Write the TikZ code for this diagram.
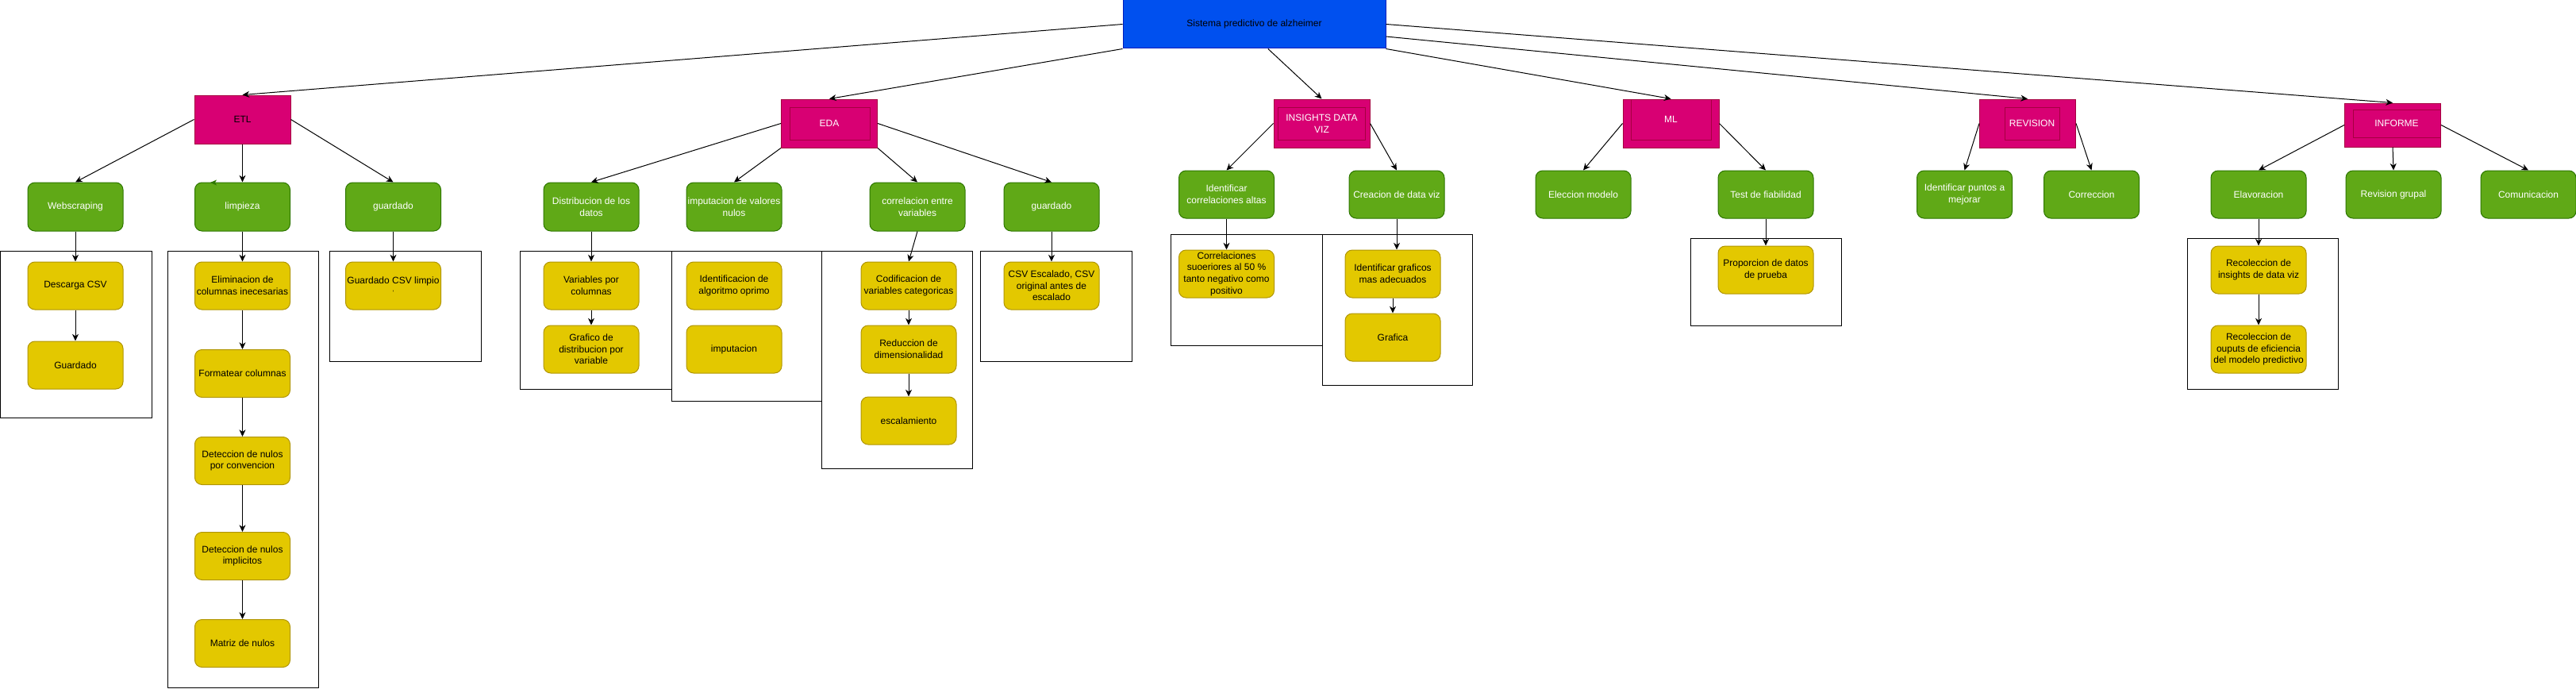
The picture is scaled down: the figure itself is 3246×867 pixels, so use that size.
\documentclass[tikz,border=0pt]{standalone}
\usepackage{fontspec}
\setmainfont{Liberation Sans}
\usetikzlibrary{arrows.meta,calc}
\definecolor{rootfill}{HTML}{0050EF}
\definecolor{rootdraw}{HTML}{001DBC}
\definecolor{magfill}{HTML}{D80073}
\definecolor{magdraw}{HTML}{A50040}
\definecolor{grnfill}{HTML}{60A917}
\definecolor{grndraw}{HTML}{2D7600}
\definecolor{yelfill}{HTML}{E3C800}
\definecolor{yeldraw}{HTML}{B09500}
\begin{document}
\begin{tikzpicture}[x=0.75pt,y=-0.75pt,line width=0.75pt,
  every node/.style={font=\fontsize{9}{11}\selectfont,align=center,inner sep=1pt},
  rootbox/.style={rectangle,fill=rootfill,draw=rootdraw,minimum width=248.25pt,minimum height=45.75pt,text=black},
  catbox/.style={rectangle,fill=magfill,draw=magdraw,minimum width=90.75pt,minimum height=45.75pt,text=white},
  greenbox/.style={rectangle,rounded corners=6.75pt,fill=grnfill,draw=grndraw,minimum width=90pt,minimum height=45pt,text=white},
  yellowbox/.style={rectangle,rounded corners=6.75pt,fill=yelfill,draw=yeldraw,minimum width=90pt,minimum height=45pt,text=black},
  container/.style={draw=black,line width=0.75pt},
  innerbox/.style={draw=magdraw,line width=0.75pt},
  arr/.style={draw=black,line width=0.75pt,-{Stealth[length=6.5pt,width=6pt,inset=2pt]}}]
\useasboundingbox (0,0) rectangle (3246,867);

% containers
\draw[container] (0,316) rectangle (191,526);
\draw[container] (211,316) rectangle (401,866);
\draw[container] (415,316) rectangle (606,455);
\draw[container] (655,316) rectangle (846,490);
\draw[container] (846,316) rectangle (1035,505);
\draw[container] (1035,316) rectangle (1225,590);
\draw[container] (1235,316) rectangle (1426,455);
\draw[container] (1475,295) rectangle (1666,435);
\draw[container] (1666,295) rectangle (1855,485);
\draw[container] (2130,300) rectangle (2320,410);
\draw[container] (2756,300) rectangle (2946,490);

% root
\node[rootbox] (root) at (1580.5,30.5) {Sistema predictivo de alzheimer};

% categories
\node[catbox,text=black] (etl) at (305.5,150.5) {ETL};
\node[catbox] (eda) at (1045,155.5) {};
\draw[innerbox] (995,135) rectangle (1096,176);
\node[text=white] at (1045,155.5) {EDA};
\node[catbox] (ins) at (1665.5,155.5) {};
\draw[innerbox] (1610,135) rectangle (1720,176);
\node[text=white] at (1665.5,155.5) {INSIGHTS DATA\\VIZ};
\node[catbox] (ml) at (2105.5,155.5) {};
\draw[innerbox] (2055,125) rectangle (2156,176);
\node[text=white] at (2105.5,150.5) {ML};
\node[catbox] (rev) at (2555,155.5) {};
\draw[innerbox] (2526,135) rectangle (2595,176);
\node[text=white] at (2560.5,155.5) {REVISION};
\node[catbox,minimum height=41.25pt] (inf) at (3015,157.5) {};
\draw[innerbox] (2965,138) rectangle (3075,173);
\node[text=white] at (3020,155.5) {INFORME};

% green level
\node[greenbox,minimum height=45.75pt] (web) at (95,260.5) {Webscraping};
\node[greenbox,minimum height=45.75pt] (limp) at (305.5,260.5) {limpieza};
\node[greenbox,minimum height=45.75pt] (guar1) at (495.5,260.5) {guardado};
\node[greenbox,minimum height=45.75pt] (dist) at (745,260.5) {Distribucion de los\\datos};
\node[greenbox,minimum height=45.75pt] (imp) at (925,260.5) {imputacion de valores\\nulos};
\node[greenbox,minimum height=45.75pt] (corr) at (1156,260.5) {correlacion entre\\variables};
\node[greenbox,minimum height=45.75pt] (guar2) at (1325,260.5) {guardado};
\node[greenbox] (idcorr) at (1545.5,245) {Identificar\\correlaciones altas};
\node[greenbox] (crea) at (1760,245) {Creacion de data viz};
\node[greenbox] (elec) at (1995,245) {Eleccion modelo};
\node[greenbox] (test) at (2225,245) {Test de fiabilidad};
\node[greenbox] (idpun) at (2475.5,245) {Identificar puntos a\\mejorar};
\node[greenbox] (corrc) at (2635.5,245) {Correccion};
\node[greenbox] (elav) at (2846,245) {Elavoracion};
\node[greenbox] (revg) at (3016,245) {Revision grupal};
\node[greenbox] (comu) at (3186,245) {Comunicacion};

% stray green arrow tip at limpieza
\fill[grndraw] (265,230) -- (273,226.5) -- (271,230) -- (273,233.5) -- cycle;

% yellow level
\node[yellowbox] (desc) at (95,360) {Descarga CSV};
\node[yellowbox] (gua) at (95,460) {Guardado};
\node[yellowbox] (elim) at (305.5,360) {Eliminacion de\\columnas inecesarias};
\node[yellowbox] (form) at (305.5,470.5) {Formatear columnas};
\node[yellowbox] (detc) at (305.5,580.5) {Deteccion de nulos\\por convencion};
\node[yellowbox] (deti) at (305.5,700.5) {Deteccion de nulos\\implicitos};
\node[yellowbox] (matr) at (305.5,810.5) {Matriz de nulos};
\node[yellowbox] (gcsv) at (495.5,360) {Guardado CSV limpio\\{\fontsize{6}{11}\selectfont `}};
\node[yellowbox] (varc) at (745,360) {Variables por\\columnas};
\node[yellowbox] (graf) at (745,440) {Grafico de\\distribucion por\\variable};
\node[yellowbox] (idal) at (925,360) {Identificacion de\\algoritmo oprimo};
\node[yellowbox] (impu) at (925,440) {imputacion};
\node[yellowbox] (codi) at (1145,360) {Codificacion de\\variables categoricas};
\node[yellowbox] (redu) at (1145,440) {Reduccion de\\dimensionalidad};
\node[yellowbox] (esca) at (1145,530) {escalamiento};
\node[yellowbox] (csve) at (1325,360) {CSV Escalado, CSV\\original antes de\\escalado};
\node[yellowbox] (corrs) at (1545.5,345) {Correlaciones\\suoeriores al 50 \%\\tanto negativo como\\positivo};
\node[yellowbox] (idgr) at (1755,345) {Identificar graficos\\mas adecuados};
\node[yellowbox] (grafi) at (1755,425) {Grafica};
\node[yellowbox] (prop) at (2225,340) {Proporcion de datos\\de prueba};
\node[yellowbox] (rec1) at (2846,340) {Recoleccion de\\insights de data viz};
\node[yellowbox] (rec2) at (2846,440) {Recoleccion de\\ouputs de eficiencia\\del modelo predictivo};

% root arrows
\draw[arr] (root.west) -- (etl.north);
\draw[arr] (root.south west) -- (eda.north);
\draw[arr] ([xshift=13pt]root.south) -- (ins.north);
\draw[arr] (root.south east) -- (ml.north);
\draw[arr] ($(root.east)!0.5!(root.south east)$) -- (rev.north);
\draw[arr] (root.east) -- (inf.north);

% category arrows
\draw[arr] (etl.west) -- (web.north);
\draw[arr] (etl.south) -- (limp.north);
\draw[arr] (etl.east) -- (guar1.north);
\draw[arr] (eda.west) -- (dist.north);
\draw[arr] (eda.south west) -- (imp.north);
\draw[arr] (eda.south east) -- (corr.north);
\draw[arr] (eda.east) -- (guar2.north);
\draw[arr] (ins.west) -- (idcorr.north);
\draw[arr] (ins.east) -- (crea.north);
\draw[arr] (ml.west) -- (elec.north);
\draw[arr] (ml.east) -- (test.north);
\draw[arr] (rev.west) -- (idpun.north);
\draw[arr] (rev.east) -- (corrc.north);
\draw[arr] (inf.west) -- (elav.north);
\draw[arr] (inf.south) -- (revg.north);
\draw[arr] (inf.east) -- (comu.north);

% sub arrows
\draw[arr] (web.south) -- (desc.north);
\draw[arr] (desc.south) -- (gua.north);
\draw[arr] (limp.south) -- (elim.north);
\draw[arr] (elim.south) -- (form.north);
\draw[arr] (form.south) -- (detc.north);
\draw[arr] (detc.south) -- (deti.north);
\draw[arr] (deti.south) -- (matr.north);
\draw[arr] (guar1.south) -- (gcsv.north);
\draw[arr] (dist.south) -- (varc.north);
\draw[arr] (varc.south) -- (graf.north);
\draw[arr] (corr.south) -- (codi.north);
\draw[arr] (codi.south) -- (redu.north);
\draw[arr] (redu.south) -- (esca.north);
\draw[arr] (guar2.south) -- (csve.north);
\draw[arr] (idcorr.south) -- (corrs.north);
\draw[arr] (crea.south) -- (crea.south |- idgr.north);
\draw[arr] (idgr.south) -- (grafi.north);
\draw[arr] (test.south) -- (prop.north);
\draw[arr] (elav.south) -- (rec1.north);
\draw[arr] (rec1.south) -- (rec2.north);
\end{tikzpicture}
\end{document}
